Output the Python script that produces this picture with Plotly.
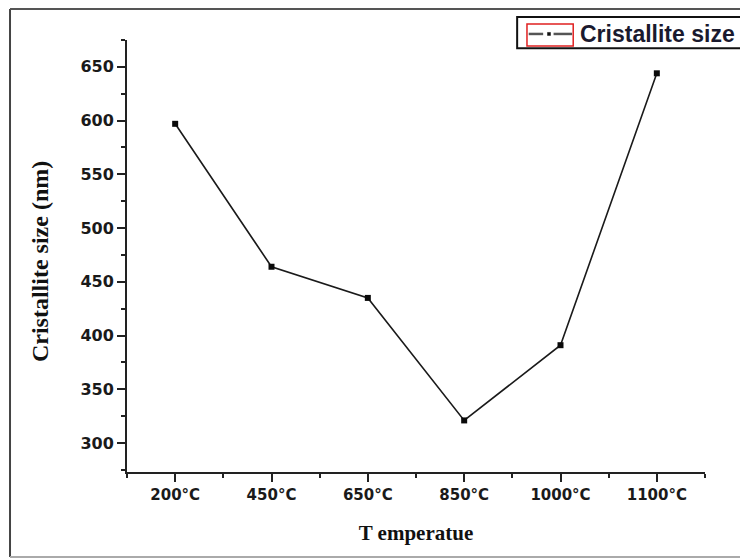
import plotly.graph_objects as go

# Annealing temperatures and the measured crystallite size at each one
temperatures = ["200°C", "450°C", "650°C", "850°C", "1000°C", "1100°C"]
crystallite_nm = [597, 464, 435, 321, 391, 644]
y_tick_values = [300, 350, 400, 450, 500, 550, 600, 650]
series_name = "Cristallite size"

x_pos = list(range(len(temperatures)))

fig = go.Figure()
fig.add_trace(go.Scatter(
    x=x_pos,
    y=crystallite_nm,
    mode="lines+markers",
    name=series_name,
    showlegend=False,
    line=dict(color="#1a1a1a", width=1.6),
    marker=dict(symbol="square", size=6, color="#0a0a0a"),
))

tick_font = dict(family="DejaVu Sans", size=16, color="#1a1a1a")
title_font = dict(family="Liberation Serif", size=21, color="#111111")

fig.update_layout(
    width=740,
    height=559,
    margin=dict(l=127, r=35, t=40, b=87),
    paper_bgcolor="white",
    plot_bgcolor="white",
    xaxis=dict(
        range=[-0.5, 5.5],
        tickvals=x_pos,
        ticktext=[f"<b>{t}</b>" for t in temperatures],
        tickfont=dict(family="DejaVu Sans", size=15, color="#1a1a1a"),
        ticks="outside", ticklen=8, tickwidth=1.5, tickcolor="#222222",
        minor=dict(tickvals=[i - 0.5 for i in range(len(temperatures) + 1)],
                   ticks="outside", ticklen=4, tickwidth=1.5, tickcolor="#222222"),
        showline=True, linecolor="#222222", linewidth=2,
        showgrid=False, zeroline=False,
        title=dict(text="<b>T emperatue</b>", font=title_font, standoff=22),
    ),
    yaxis=dict(
        range=[273, 675],
        tickvals=y_tick_values,
        ticktext=[f"<b>{v}</b>" for v in y_tick_values],
        tickfont=tick_font,
        ticks="outside", ticklen=8, tickwidth=1.5, tickcolor="#222222",
        minor=dict(tickvals=[v + 25 for v in [250] + y_tick_values],
                   ticks="outside", ticklen=4, tickwidth=1.5, tickcolor="#222222"),
        showline=True, linecolor="#222222", linewidth=2,
        showgrid=False, zeroline=False,
    ),
)

# Y-axis title, set slightly below the middle of the axis
fig.add_annotation(x=-0.1505, y=0.486, xref="paper", yref="paper",
                   xanchor="center", yanchor="middle", showarrow=False,
                   textangle=-90, text="<b>Cristallite size (nm)</b>",
                   font=dict(family="Liberation Serif", size=24, color="#111111"))

# Frame around the whole figure (left, top and bottom edges)
fig.add_shape(type="line", xref="paper", yref="paper",
              x0=-0.2024, x1=-0.2024, y0=-0.1968, y1=1.0718,
              line=dict(color="#444444", width=2))
fig.add_shape(type="line", xref="paper", yref="paper",
              x0=-0.2024, x1=1.1, y0=1.0718, y1=1.0718,
              line=dict(color="#555555", width=2))
fig.add_shape(type="line", xref="paper", yref="paper",
              x0=-0.2024, x1=1.1, y0=-0.1968, y1=-0.1968,
              line=dict(color="#aaaaaa", width=2))

# Legend box in the top-right corner
fig.add_shape(type="rect", xref="paper", yref="paper",
              x0=0.675, x1=1.1, y0=0.981, y1=1.053,
              line=dict(color="#111111", width=2), fillcolor="white", layer="above")
# Red outline around the legend symbol
fig.add_shape(type="rect", xref="paper", yref="paper",
              x0=0.692, x1=0.772, y0=0.986, y1=1.037,
              line=dict(color="#e02020", width=1.5), layer="above")
# Legend symbol: dash - dot - dash
for sx0, sx1 in [(0.695, 0.720), (0.738, 0.770)]:
    fig.add_shape(type="line", xref="paper", yref="paper",
                  x0=sx0, x1=sx1, y0=1.014, y1=1.014,
                  line=dict(color="#555555", width=2.5), layer="above")
fig.add_shape(type="rect", xref="paper", yref="paper",
              x0=0.7275, x1=0.7327, y0=1.0105, y1=1.0175,
              line=dict(color="#111111", width=0.5), fillcolor="#111111", layer="above")
fig.add_annotation(x=0.780, y=1.014, xref="paper", yref="paper",
                   xanchor="left", yanchor="middle", showarrow=False,
                   text=f"<b>{series_name}</b>",
                   font=dict(family="Liberation Sans", size=23, color="#1a1a2e"))

fig.write_html("out.html")
